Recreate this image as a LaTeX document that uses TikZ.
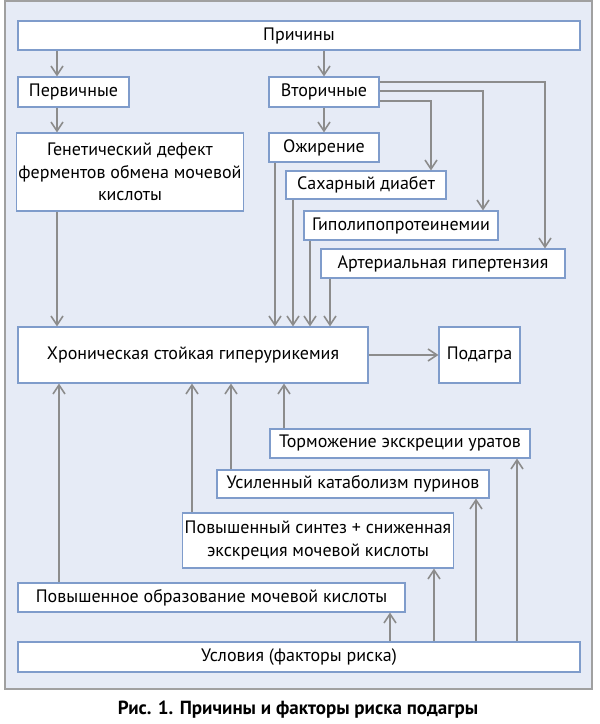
\documentclass[tikz,border=0pt]{standalone}
\usepackage{fontspec}
\setmainfont{PT Sans}
\usetikzlibrary{arrows.meta}
\definecolor{panel}{HTML}{E6EBF6}
\definecolor{boxline}{HTML}{7F9CCB}
\definecolor{arrowgray}{HTML}{8C8C8C}
\definecolor{framegray}{HTML}{A0A0A0}
\begin{document}
\begin{tikzpicture}[x=1pt,y=-1pt,
    every node/.style={font=\fontsize{18}{22.5}\selectfont},
    box/.style={rectangle, draw=boxline, line width=1.2pt, fill=white,
                inner sep=2pt, align=center},
    arrow/.style={-{Straight Barb[length=9pt,width=12pt,line width=1.6pt]},
                  draw=arrowgray, line width=1.8pt},
    line/.style={draw=arrowgray, line width=1.8pt}]
    \useasboundingbox (0,0) rectangle (600,724);

    % Panel
    \draw[framegray, line width=1.2pt, fill=panel] (5,1) rectangle (592,689);

    % ==== Nodes ====
    \node[box, minimum width=562, minimum height=29] (prich)  at (299,35.5)  {Причины};
    \node[box, minimum width=111, minimum height=30] (perv)   at (73.5,92)   {Первичные};
    \node[box, minimum width=110, minimum height=30] (vtor)   at (324,92)    {Вторичные};
    \node[box, minimum width=224, minimum height=78] (genet)  at (130,172)
        {Генетический дефект\\ферментов обмена мочевой\\кислоты};
    \node[box, minimum width=110, minimum height=29] (ozhir)  at (324,147.5) {Ожирение};
    \node[box, minimum width=160, minimum height=28] (sahar)  at (366,185)   {Сахарный диабет};
    \node[box, minimum width=194, minimum height=29] (gipo)   at (401,225.5) {Гиполипопротеинемии};
    \node[box, minimum width=244, minimum height=29] (arter)  at (443,263.5) {Артериальная гипертензия};
    \node[box, minimum width=350, minimum height=56] (hron)   at (193,355)   {Хроническая стойкая гиперурикемия};
    \node[box, minimum width=81,  minimum height=56] (podagra) at (479.5,355) {Подагра};
    \node[box, minimum width=260, minimum height=29] (torm)   at (400,443.5) {Торможение экскреции уратов};
    \node[box, minimum width=272, minimum height=28] (usil)   at (353,484)   {Усиленный катаболизм пуринов};
    \node[box, minimum width=270, minimum height=55] (sintez) at (318,540.5)
        {Повышенный синтез + сниженная\\экскреция мочевой кислоты};
    \node[box, minimum width=387, minimum height=29] (obraz)  at (211.5,597.5) {Повышенное образование мочевой кислоты};
    \node[box, minimum width=562, minimum height=30] (uslov)  at (299,657)   {Условия (факторы риска)};

    % Caption
    \node[font=\fontsize{19}{22}\selectfont\bfseries] (caption) at (298,710)
        {Рис. 1. Причины и факторы риска подагры};

    % ==== Arrows ====
    % downward
    \foreach \x/\a/\b in {57/prich/perv, 324/prich/vtor, 57/perv/genet, 324/vtor/ozhir,
                          57/genet/hron, 275/ozhir/hron, 293/sahar/hron,
                          310/gipo/hron, 330/arter/hron}
        \draw[arrow] (\x,0 |- \a.south) -- (\x,0 |- \b.north);

    % upward
    \foreach \x/\a/\b in {59/obraz/hron, 192/sintez/hron, 231/usil/hron, 284/torm/hron,
                          390/uslov/obraz, 434/uslov/sintez, 476/uslov/usil, 517/uslov/torm}
        \draw[arrow] (\x,0 |- \a.north) -- (\x,0 |- \b.south);

    % from Вторичные to the right, then down
    \foreach \y/\x/\b in {82/545/arter, 91/483/gipo, 101/431/sahar}
        \draw[arrow] (vtor.east |- 0,\y) -| (\x,0 |- \b.north);

    \draw[arrow] (hron.east) -- (podagra.west);
\end{tikzpicture}
\end{document}
